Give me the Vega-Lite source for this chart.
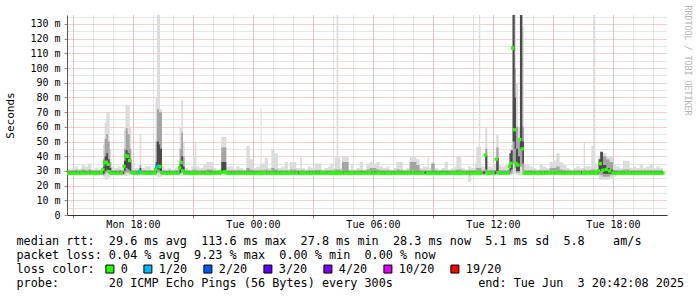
{
"$schema": "https://vega.github.io/schema/vega-lite/v6.json",
"width": 600, "height": 200,
"autosize": "none",
"padding": {"left": 67, "top": 15, "right": 30, "bottom": 82},
"background": "white",
"config": {"view": {"stroke": null}},
"data": {"values": [
{"t":"2025-06-02T14:45","lo":26.8,"hi":31,"a":27.4,"b":30.4,"c":28,"d":29.6,"m":28.5,"l":"0"},
{"t":"2025-06-02T14:55","lo":26.8,"hi":32,"a":27.4,"b":30.4,"c":28,"d":29.6,"m":28.6,"l":"0"},
{"t":"2025-06-02T15:05","lo":26.7,"hi":33,"a":27.4,"b":30.6,"c":28,"d":29.6,"m":28.4,"l":"0"},
{"t":"2025-06-02T15:15","lo":26.8,"hi":31.5,"a":27.4,"b":30.4,"c":28,"d":29.6,"m":28.5,"l":"0"},
{"t":"2025-06-02T15:25","lo":26.8,"hi":34,"a":27.4,"b":31,"c":28,"d":29.7,"m":28.7,"l":"0"},
{"t":"2025-06-02T15:35","lo":26.9,"hi":33,"a":27.4,"b":30.5,"c":28,"d":29.6,"m":28.4,"l":"0"},
{"t":"2025-06-02T15:45","lo":26.8,"hi":35,"a":27.5,"b":31,"c":28,"d":29.8,"m":28.9,"l":"0"},
{"t":"2025-06-02T15:55","lo":26.8,"hi":31,"a":27.4,"b":30.2,"c":28,"d":29.6,"m":28.5,"l":"0"},
{"t":"2025-06-02T16:05","lo":26.7,"hi":32,"a":27.4,"b":30.4,"c":28,"d":29.5,"m":28.3,"l":"0"},
{"t":"2025-06-02T16:15","lo":26.8,"hi":31.5,"a":27.4,"b":30.3,"c":28,"d":29.6,"m":28.6,"l":"0"},
{"t":"2025-06-02T16:25","lo":26.8,"hi":32,"a":27.4,"b":30.5,"c":28,"d":29.7,"m":28.8,"l":"0"},
{"t":"2025-06-02T16:30","lo":26,"hi":48,"a":27,"b":38,"c":28,"d":33,"m":31,"l":"0"},
{"t":"2025-06-02T16:35","lo":24,"hi":63,"a":28,"b":52,"c":30,"d":40,"m":35.6,"l":"0"},
{"t":"2025-06-02T16:40","lo":24,"hi":70,"a":29,"b":55,"c":31,"d":42,"m":36,"l":"0"},
{"t":"2025-06-02T16:45","lo":25,"hi":70,"a":28,"b":50,"c":30,"d":38,"m":34.5,"l":"0"},
{"t":"2025-06-02T16:50","lo":26,"hi":45,"a":27.5,"b":36,"c":28,"d":32,"m":29.5,"l":"0"},
{"t":"2025-06-02T16:55","lo":26.8,"hi":33,"a":27.4,"b":30.5,"c":28,"d":29.6,"m":28.5,"l":"0"},
{"t":"2025-06-02T17:05","lo":26.8,"hi":32,"a":27.4,"b":30.4,"c":28,"d":29.6,"m":28.4,"l":"0"},
{"t":"2025-06-02T17:15","lo":26.8,"hi":33,"a":27.4,"b":30.6,"c":28,"d":29.7,"m":28.7,"l":"0"},
{"t":"2025-06-02T17:25","lo":26.8,"hi":31.5,"a":27.4,"b":30.3,"c":28,"d":29.6,"m":28.5,"l":"0"},
{"t":"2025-06-02T17:33","lo":26.5,"hi":58,"a":28,"b":45,"c":30,"d":37,"m":33,"l":"0"},
{"t":"2025-06-02T17:38","lo":26.5,"hi":75,"a":29,"b":59,"c":32,"d":44,"m":40.5,"l":"0"},
{"t":"2025-06-02T17:44","lo":27,"hi":75,"a":29,"b":55,"c":31,"d":42,"m":40,"l":"0"},
{"t":"2025-06-02T17:50","lo":27,"hi":60,"a":28,"b":45,"c":30,"d":38,"m":37,"l":"0"},
{"t":"2025-06-02T17:55","lo":26.8,"hi":35,"a":27.4,"b":30.5,"c":28,"d":29.6,"m":29,"l":"0"},
{"t":"2025-06-02T18:05","lo":26.8,"hi":32,"a":27.4,"b":30.4,"c":28,"d":29.6,"m":28.5,"l":"0"},
{"t":"2025-06-02T18:15","lo":26.8,"hi":32,"a":27.4,"b":30.4,"c":28,"d":29.6,"m":28.6,"l":"0"},
{"t":"2025-06-02T18:20","lo":26.8,"hi":55,"a":28,"b":34,"c":28.5,"d":32,"m":29.5,"l":"1/20"},
{"t":"2025-06-02T18:25","lo":26.8,"hi":32,"a":27.4,"b":30.4,"c":28,"d":29.6,"m":28.7,"l":"0"},
{"t":"2025-06-02T18:35","lo":26.8,"hi":33,"a":27.4,"b":30.5,"c":28,"d":29.6,"m":28.5,"l":"0"},
{"t":"2025-06-02T18:45","lo":26.8,"hi":33,"a":27.4,"b":30.4,"c":28,"d":29.6,"m":28.6,"l":"0"},
{"t":"2025-06-02T18:55","lo":26.8,"hi":31,"a":27.4,"b":30.3,"c":28,"d":29.6,"m":28.4,"l":"0"},
{"t":"2025-06-02T19:05","lo":26.8,"hi":32,"a":27.4,"b":30.4,"c":28,"d":29.6,"m":28.6,"l":"0"},
{"t":"2025-06-02T19:08","lo":26.5,"hi":80,"a":28,"b":50,"c":29,"d":36,"m":31,"l":"0"},
{"t":"2025-06-02T19:12","lo":26,"hi":136.1,"a":29,"b":72,"c":31,"d":50,"m":33,"l":"1/20"},
{"t":"2025-06-02T19:18","lo":26,"hi":136.1,"a":29,"b":70,"c":31,"d":48,"m":33,"l":"1/20"},
{"t":"2025-06-02T19:21","lo":26,"hi":72,"a":28,"b":70,"c":30,"d":45,"m":33,"l":"0"},
{"t":"2025-06-02T19:27","lo":26.8,"hi":33,"a":27.4,"b":30.5,"c":28,"d":29.6,"m":28.6,"l":"0"},
{"t":"2025-06-02T19:35","lo":26.8,"hi":31,"a":27.4,"b":30.3,"c":28,"d":29.6,"m":28.5,"l":"0"},
{"t":"2025-06-02T19:45","lo":26.8,"hi":32,"a":27.4,"b":30.4,"c":28,"d":29.6,"m":28.4,"l":"0"},
{"t":"2025-06-02T19:55","lo":26.8,"hi":31,"a":27.4,"b":30.3,"c":28,"d":29.6,"m":28.6,"l":"0"},
{"t":"2025-06-02T20:05","lo":26.8,"hi":32,"a":27.4,"b":30.4,"c":28,"d":29.6,"m":28.7,"l":"0"},
{"t":"2025-06-02T20:15","lo":26.8,"hi":33,"a":27.4,"b":30.5,"c":28,"d":29.6,"m":28.5,"l":"0"},
{"t":"2025-06-02T20:20","lo":27,"hi":60,"a":28,"b":45,"c":29,"d":35,"m":32,"l":"0"},
{"t":"2025-06-02T20:25","lo":27,"hi":78,"a":29,"b":56,"c":31,"d":40,"m":35.6,"l":"0"},
{"t":"2025-06-02T20:30","lo":27,"hi":50,"a":28,"b":40,"c":29,"d":33,"m":30,"l":"0"},
{"t":"2025-06-02T20:35","lo":26.8,"hi":32,"a":27.4,"b":30.4,"c":28,"d":29.6,"m":28.6,"l":"0"},
{"t":"2025-06-02T20:45","lo":26.8,"hi":31,"a":27.4,"b":30.3,"c":28,"d":29.6,"m":28.4,"l":"0"},
{"t":"2025-06-02T20:55","lo":26.8,"hi":33,"a":27.4,"b":30.5,"c":28,"d":29.6,"m":28.6,"l":"0"},
{"t":"2025-06-02T21:00","lo":26.8,"hi":40,"a":27.4,"b":31,"c":28,"d":29.6,"m":28.5,"l":"0"},
{"t":"2025-06-02T21:05","lo":26.8,"hi":49,"a":27.4,"b":31,"c":28,"d":29.6,"m":28.6,"l":"0"},
{"t":"2025-06-02T21:10","lo":26.8,"hi":33,"a":27.4,"b":30.4,"c":28,"d":29.6,"m":28.5,"l":"0"},
{"t":"2025-06-02T21:20","lo":26.8,"hi":32,"a":27.4,"b":30.4,"c":28,"d":29.6,"m":28.7,"l":"0"},
{"t":"2025-06-02T21:30","lo":26.8,"hi":34,"a":27.4,"b":30.5,"c":28,"d":29.6,"m":28.5,"l":"0"},
{"t":"2025-06-02T21:40","lo":26.8,"hi":36,"a":27.4,"b":31,"c":28,"d":29.6,"m":28.6,"l":"0"},
{"t":"2025-06-02T21:50","lo":26.8,"hi":36,"a":27.4,"b":31,"c":28,"d":29.6,"m":28.4,"l":"0"},
{"t":"2025-06-02T22:00","lo":26.8,"hi":32,"a":27.4,"b":30.4,"c":28,"d":29.6,"m":28.6,"l":"0"},
{"t":"2025-06-02T22:10","lo":26.8,"hi":31,"a":27.4,"b":30.3,"c":28,"d":29.6,"m":28.5,"l":"0"},
{"t":"2025-06-02T22:20","lo":26.8,"hi":32,"a":27.4,"b":30.4,"c":28,"d":29.6,"m":28.7,"l":"0"},
{"t":"2025-06-02T22:25","lo":26.8,"hi":53,"a":28,"b":46,"c":28.5,"d":36,"m":29,"l":"0"},
{"t":"2025-06-02T22:35","lo":26.8,"hi":53,"a":28,"b":46,"c":28.5,"d":36,"m":29.5,"l":"0"},
{"t":"2025-06-02T22:40","lo":26.8,"hi":33,"a":27.4,"b":30.5,"c":28,"d":29.6,"m":28.6,"l":"0"},
{"t":"2025-06-02T22:50","lo":26.8,"hi":33,"a":27.4,"b":30.4,"c":28,"d":29.6,"m":28.5,"l":"0"},
{"t":"2025-06-02T23:00","lo":26.8,"hi":31.5,"a":27.4,"b":30.3,"c":28,"d":29.6,"m":28.4,"l":"0"},
{"t":"2025-06-02T23:10","lo":26.8,"hi":33,"a":27.4,"b":30.4,"c":28,"d":29.6,"m":28.6,"l":"0"},
{"t":"2025-06-02T23:20","lo":26.8,"hi":32,"a":27.4,"b":30.4,"c":28,"d":29.6,"m":28.5,"l":"0"},
{"t":"2025-06-02T23:30","lo":26.8,"hi":31,"a":27.4,"b":30.3,"c":28,"d":29.6,"m":28.7,"l":"0"},
{"t":"2025-06-02T23:40","lo":26.8,"hi":47,"a":27.4,"b":32,"c":28,"d":29.8,"m":28.6,"l":"0"},
{"t":"2025-06-02T23:50","lo":26.8,"hi":38,"a":27.4,"b":31,"c":28,"d":29.6,"m":28.5,"l":"0"},
{"t":"2025-06-03T00:00","lo":26.8,"hi":32,"a":27.4,"b":30.4,"c":28,"d":29.6,"m":28.4,"l":"0"},
{"t":"2025-06-03T00:10","lo":26.8,"hi":33,"a":27.4,"b":30.5,"c":28,"d":29.6,"m":28.6,"l":"0"},
{"t":"2025-06-03T00:20","lo":26.8,"hi":34,"a":27.4,"b":30.5,"c":28,"d":29.6,"m":28.5,"l":"0"},
{"t":"2025-06-03T00:23","lo":26.8,"hi":73,"a":27.4,"b":31,"c":28,"d":29.6,"m":28.6,"l":"0"},
{"t":"2025-06-03T00:26","lo":26.8,"hi":35,"a":27.4,"b":30.5,"c":28,"d":29.6,"m":28.5,"l":"0"},
{"t":"2025-06-03T00:35","lo":26.8,"hi":39,"a":27.4,"b":31,"c":28,"d":29.6,"m":28.7,"l":"0"},
{"t":"2025-06-03T00:45","lo":26.8,"hi":32,"a":27.4,"b":30.4,"c":28,"d":29.6,"m":28.5,"l":"0"},
{"t":"2025-06-03T00:55","lo":26.8,"hi":45,"a":27.4,"b":32,"c":28,"d":29.6,"m":28.6,"l":"0"},
{"t":"2025-06-03T01:05","lo":26.8,"hi":42,"a":27.4,"b":31,"c":28,"d":29.6,"m":28.4,"l":"0"},
{"t":"2025-06-03T01:15","lo":26.8,"hi":32,"a":27.4,"b":30.4,"c":28,"d":29.6,"m":28.6,"l":"0"},
{"t":"2025-06-03T01:25","lo":26.8,"hi":33,"a":27.4,"b":30.4,"c":28,"d":29.6,"m":28.5,"l":"0"},
{"t":"2025-06-03T01:35","lo":26.8,"hi":36,"a":27.4,"b":30.5,"c":28,"d":29.6,"m":28.6,"l":"0"},
{"t":"2025-06-03T01:45","lo":26.8,"hi":31,"a":27.4,"b":30.3,"c":28,"d":29.6,"m":28.5,"l":"0"},
{"t":"2025-06-03T01:50","lo":26.8,"hi":36,"a":27.4,"b":31,"c":28,"d":29.6,"m":28.7,"l":"0"},
{"t":"2025-06-03T02:00","lo":26.8,"hi":36,"a":27.4,"b":31,"c":28,"d":29.6,"m":28.6,"l":"0"},
{"t":"2025-06-03T02:10","lo":26.8,"hi":32,"a":27.4,"b":30.4,"c":28,"d":29.6,"m":28.5,"l":"0"},
{"t":"2025-06-03T02:22","lo":26.8,"hi":40,"a":27.4,"b":30.5,"c":28,"d":29.6,"m":28.6,"l":"0"},
{"t":"2025-06-03T02:27","lo":26.8,"hi":32,"a":27.4,"b":30.4,"c":28,"d":29.6,"m":28.5,"l":"0"},
{"t":"2025-06-03T02:35","lo":26.8,"hi":31,"a":27.4,"b":30.3,"c":28,"d":29.6,"m":28.7,"l":"0"},
{"t":"2025-06-03T02:45","lo":26.8,"hi":33,"a":27.4,"b":30.4,"c":28,"d":29.6,"m":28.6,"l":"0"},
{"t":"2025-06-03T02:55","lo":26.8,"hi":32,"a":27.4,"b":30.4,"c":28,"d":29.6,"m":28.5,"l":"0"},
{"t":"2025-06-03T03:05","lo":26.8,"hi":35,"a":27.4,"b":30.6,"c":28,"d":29.6,"m":28.6,"l":"0"},
{"t":"2025-06-03T03:15","lo":26.8,"hi":35,"a":27.4,"b":30.6,"c":28,"d":29.6,"m":28.5,"l":"0"},
{"t":"2025-06-03T03:25","lo":26.8,"hi":31,"a":27.4,"b":30.3,"c":28,"d":29.6,"m":28.8,"l":"0"},
{"t":"2025-06-03T03:35","lo":26.8,"hi":32,"a":27.4,"b":30.4,"c":28,"d":29.6,"m":28.7,"l":"0"},
{"t":"2025-06-03T03:45","lo":26.8,"hi":33,"a":27.4,"b":30.4,"c":28,"d":29.6,"m":28.6,"l":"0"},
{"t":"2025-06-03T03:53","lo":26.8,"hi":35,"a":27.4,"b":30.5,"c":28,"d":29.6,"m":28.5,"l":"0"},
{"t":"2025-06-03T04:00","lo":26.8,"hi":32,"a":27.4,"b":30.4,"c":28,"d":29.6,"m":28.7,"l":"0"},
{"t":"2025-06-03T04:05","lo":26.8,"hi":40,"a":27.4,"b":31,"c":28,"d":29.6,"m":28.6,"l":"0"},
{"t":"2025-06-03T04:11","lo":26.8,"hi":136.1,"a":27.4,"b":31,"c":28,"d":29.6,"m":28.5,"l":"0"},
{"t":"2025-06-03T04:16","lo":26.8,"hi":40,"a":27.4,"b":31,"c":28,"d":29.6,"m":28.6,"l":"0"},
{"t":"2025-06-03T04:22","lo":26.8,"hi":32,"a":27.4,"b":30.4,"c":28,"d":29.6,"m":28.5,"l":"0"},
{"t":"2025-06-03T04:27","lo":26.8,"hi":40,"a":27.4,"b":36,"c":28,"d":29.8,"m":28.7,"l":"0"},
{"t":"2025-06-03T04:37","lo":26.8,"hi":40,"a":27.4,"b":36,"c":28,"d":29.8,"m":28.6,"l":"0"},
{"t":"2025-06-03T04:47","lo":26.8,"hi":31,"a":27.4,"b":30.3,"c":28,"d":29.6,"m":28.5,"l":"0"},
{"t":"2025-06-03T04:54","lo":26.8,"hi":35,"a":27.4,"b":30.5,"c":28,"d":29.6,"m":28.6,"l":"0"},
{"t":"2025-06-03T05:00","lo":26.8,"hi":31,"a":27.4,"b":30.3,"c":28,"d":29.6,"m":28.5,"l":"0"},
{"t":"2025-06-03T05:10","lo":26.8,"hi":32,"a":27.4,"b":30.4,"c":28,"d":29.6,"m":28.7,"l":"0"},
{"t":"2025-06-03T05:20","lo":26.8,"hi":36,"a":27.4,"b":30.6,"c":28,"d":29.6,"m":28.6,"l":"0"},
{"t":"2025-06-03T05:30","lo":26.8,"hi":31,"a":27.4,"b":30.3,"c":28,"d":29.6,"m":28.5,"l":"0"},
{"t":"2025-06-03T05:40","lo":26.8,"hi":35,"a":27.4,"b":31,"c":28,"d":29.6,"m":28.6,"l":"0"},
{"t":"2025-06-03T05:50","lo":26.8,"hi":36,"a":27.4,"b":32,"c":28,"d":29.8,"m":28.8,"l":"0"},
{"t":"2025-06-03T06:00","lo":26.8,"hi":35,"a":27.4,"b":32,"c":28,"d":29.8,"m":28.6,"l":"0"},
{"t":"2025-06-03T06:10","lo":26.8,"hi":36,"a":27.4,"b":31,"c":28,"d":29.6,"m":28.5,"l":"0"},
{"t":"2025-06-03T06:20","lo":26.8,"hi":33,"a":27.4,"b":30.5,"c":28,"d":29.6,"m":28.7,"l":"0"},
{"t":"2025-06-03T06:30","lo":26.8,"hi":32,"a":27.4,"b":30.4,"c":28,"d":29.6,"m":28.6,"l":"0"},
{"t":"2025-06-03T06:40","lo":26.8,"hi":33,"a":27.4,"b":30.4,"c":28,"d":29.6,"m":28.5,"l":"0"},
{"t":"2025-06-03T06:50","lo":26.8,"hi":31,"a":27.4,"b":30.3,"c":28,"d":29.6,"m":28.6,"l":"0"},
{"t":"2025-06-03T07:00","lo":26.8,"hi":32,"a":27.4,"b":30.4,"c":28,"d":29.6,"m":28.5,"l":"0"},
{"t":"2025-06-03T07:10","lo":26.8,"hi":36,"a":27.4,"b":31,"c":28,"d":29.6,"m":28.7,"l":"0"},
{"t":"2025-06-03T07:20","lo":26.8,"hi":36,"a":27.4,"b":30.6,"c":28,"d":29.6,"m":28.6,"l":"0"},
{"t":"2025-06-03T07:30","lo":26.8,"hi":31,"a":27.4,"b":30.3,"c":28,"d":29.6,"m":28.5,"l":"0"},
{"t":"2025-06-03T07:40","lo":26.8,"hi":32,"a":27.4,"b":30.4,"c":28,"d":29.6,"m":28.6,"l":"0"},
{"t":"2025-06-03T07:50","lo":26.8,"hi":40,"a":27.4,"b":36,"c":28,"d":30,"m":28.7,"l":"0"},
{"t":"2025-06-03T08:00","lo":26.8,"hi":40,"a":27.4,"b":36,"c":28,"d":30,"m":28.8,"l":"0"},
{"t":"2025-06-03T08:10","lo":26.8,"hi":38,"a":27.4,"b":34,"c":28,"d":29.8,"m":28.6,"l":"0"},
{"t":"2025-06-03T08:20","lo":26.8,"hi":32,"a":27.4,"b":30.4,"c":28,"d":29.6,"m":28.5,"l":"0"},
{"t":"2025-06-03T08:30","lo":26.8,"hi":33,"a":27.4,"b":30.4,"c":28,"d":29.6,"m":28.6,"l":"0"},
{"t":"2025-06-03T08:44","lo":26.8,"hi":39,"a":27.4,"b":30.5,"c":28,"d":29.6,"m":28.5,"l":"0"},
{"t":"2025-06-03T08:48","lo":26.8,"hi":32,"a":27.4,"b":30.4,"c":28,"d":29.6,"m":28.6,"l":"0"},
{"t":"2025-06-03T08:55","lo":26.8,"hi":36,"a":27.4,"b":35,"c":28,"d":30,"m":28.7,"l":"0"},
{"t":"2025-06-03T09:05","lo":26.8,"hi":32,"a":27.4,"b":30.4,"c":28,"d":29.6,"m":28.5,"l":"0"},
{"t":"2025-06-03T09:15","lo":26.8,"hi":31,"a":27.4,"b":30.3,"c":28,"d":29.6,"m":28.6,"l":"0"},
{"t":"2025-06-03T09:25","lo":26.8,"hi":32,"a":27.4,"b":30.4,"c":28,"d":29.6,"m":28.4,"l":"0"},
{"t":"2025-06-03T09:35","lo":26.8,"hi":36,"a":27.4,"b":30.5,"c":28,"d":29.6,"m":28.6,"l":"0"},
{"t":"2025-06-03T09:45","lo":26.8,"hi":31,"a":27.4,"b":30.3,"c":28,"d":29.6,"m":28.5,"l":"0"},
{"t":"2025-06-03T09:55","lo":26.8,"hi":32,"a":27.4,"b":30.4,"c":28,"d":29.6,"m":28.7,"l":"0"},
{"t":"2025-06-03T10:05","lo":26.8,"hi":33,"a":27.4,"b":30.4,"c":28,"d":29.6,"m":28.6,"l":"0"},
{"t":"2025-06-03T10:10","lo":26.8,"hi":40,"a":27.4,"b":31,"c":28,"d":29.6,"m":28.5,"l":"0"},
{"t":"2025-06-03T10:20","lo":26.8,"hi":40,"a":27.4,"b":31,"c":28,"d":29.6,"m":28.6,"l":"0"},
{"t":"2025-06-03T10:25","lo":26.8,"hi":32,"a":27.4,"b":30.4,"c":28,"d":29.6,"m":28.5,"l":"0"},
{"t":"2025-06-03T10:35","lo":26.8,"hi":31,"a":27.4,"b":30.3,"c":28,"d":29.6,"m":28.7,"l":"0"},
{"t":"2025-06-03T10:45","lo":22.7,"hi":33,"a":27,"b":30.4,"c":28,"d":29.6,"m":28.5,"l":"0"},
{"t":"2025-06-03T10:55","lo":26.8,"hi":32,"a":27.4,"b":30.4,"c":28,"d":29.6,"m":28.6,"l":"0"},
{"t":"2025-06-03T11:05","lo":26.8,"hi":35,"a":27.4,"b":30.6,"c":28,"d":29.6,"m":28.5,"l":"0"},
{"t":"2025-06-03T11:10","lo":26.8,"hi":46.5,"a":27.4,"b":32,"c":28,"d":29.6,"m":28.6,"l":"0"},
{"t":"2025-06-03T11:18","lo":26.8,"hi":136.1,"a":27.4,"b":32,"c":28,"d":29.6,"m":28.7,"l":"0"},
{"t":"2025-06-03T11:22","lo":26.8,"hi":46.5,"a":27.4,"b":32,"c":28,"d":29.6,"m":28.6,"l":"0"},
{"t":"2025-06-03T11:25","lo":26.8,"hi":33,"a":27.4,"b":30.4,"c":28,"d":29.6,"m":28.5,"l":"0"},
{"t":"2025-06-03T11:37","lo":27,"hi":59,"a":29,"b":45,"c":31,"d":41,"m":40.8,"l":"0"},
{"t":"2025-06-03T11:43","lo":26.8,"hi":33,"a":27.4,"b":30.4,"c":28,"d":29.6,"m":28.6,"l":"0"},
{"t":"2025-06-03T11:50","lo":26.8,"hi":33,"a":27.4,"b":30.4,"c":28,"d":29.6,"m":28.5,"l":"0"},
{"t":"2025-06-03T12:00","lo":26.8,"hi":35,"a":27.4,"b":30.6,"c":28,"d":29.6,"m":28.7,"l":"0"},
{"t":"2025-06-03T12:10","lo":27,"hi":54.5,"a":28,"b":46,"c":30,"d":38.6,"m":38,"l":"0"},
{"t":"2025-06-03T12:17","lo":26.8,"hi":34,"a":27.4,"b":30.5,"c":28,"d":29.6,"m":28.6,"l":"0"},
{"t":"2025-06-03T12:25","lo":26.8,"hi":33,"a":27.4,"b":30.4,"c":28,"d":29.6,"m":28.5,"l":"0"},
{"t":"2025-06-03T12:35","lo":26.8,"hi":34,"a":27.4,"b":30.5,"c":28,"d":29.6,"m":28.6,"l":"0"},
{"t":"2025-06-03T12:45","lo":26.8,"hi":35,"a":27.4,"b":31,"c":28,"d":29.6,"m":28.7,"l":"0"},
{"t":"2025-06-03T12:50","lo":27,"hi":45,"a":28,"b":42,"c":30,"d":42,"m":33,"l":"0"},
{"t":"2025-06-03T12:54","lo":27,"hi":48,"a":28,"b":44,"c":31,"d":44,"m":35.2,"l":"0"},
{"t":"2025-06-03T12:59","lo":28,"hi":136.1,"a":35,"b":136.1,"c":50,"d":136.1,"m":113.6,"l":"0"},
{"t":"2025-06-03T13:05","lo":28,"hi":136.1,"a":32,"b":100,"c":45,"d":80,"m":58,"l":"0"},
{"t":"2025-06-03T13:09","lo":27,"hi":90,"a":29,"b":60,"c":30,"d":45,"m":35,"l":"0"},
{"t":"2025-06-03T13:15","lo":27,"hi":60,"a":29,"b":50,"c":30,"d":40,"m":34,"l":"0"},
{"t":"2025-06-03T13:21","lo":27,"hi":136.1,"a":33,"b":136.1,"c":45,"d":136.1,"m":51.3,"l":"0"},
{"t":"2025-06-03T13:28","lo":27,"hi":128,"a":30,"b":60,"c":35,"d":50,"m":45,"l":"0"},
{"t":"2025-06-03T13:33","lo":26.8,"hi":35,"a":27.4,"b":30.5,"c":28,"d":29.6,"m":28.5,"l":"0"},
{"t":"2025-06-03T13:40","lo":26.8,"hi":34,"a":27.4,"b":30.5,"c":28,"d":29.6,"m":28.6,"l":"0"},
{"t":"2025-06-03T13:50","lo":26.8,"hi":33,"a":27.4,"b":30.4,"c":28,"d":29.6,"m":28.5,"l":"0"},
{"t":"2025-06-03T14:00","lo":26.8,"hi":32,"a":27.4,"b":30.4,"c":28,"d":29.6,"m":28.7,"l":"0"},
{"t":"2025-06-03T14:10","lo":26.8,"hi":31,"a":27.4,"b":30.3,"c":28,"d":29.6,"m":28.6,"l":"0"},
{"t":"2025-06-03T14:20","lo":26.8,"hi":34,"a":27.4,"b":30.5,"c":28,"d":29.6,"m":28.5,"l":"0"},
{"t":"2025-06-03T14:30","lo":26.8,"hi":33,"a":27.4,"b":30.4,"c":28,"d":29.6,"m":28.6,"l":"0"},
{"t":"2025-06-03T14:40","lo":26.8,"hi":32,"a":27.4,"b":30.4,"c":28,"d":29.6,"m":28.5,"l":"0"},
{"t":"2025-06-03T14:50","lo":26.8,"hi":36,"a":27.4,"b":32,"c":28,"d":29.8,"m":28.7,"l":"0"},
{"t":"2025-06-03T15:00","lo":26.8,"hi":37,"a":27.4,"b":32,"c":28,"d":29.8,"m":28.9,"l":"0"},
{"t":"2025-06-03T15:10","lo":26.8,"hi":42,"a":27.4,"b":33,"c":28,"d":29.8,"m":28.8,"l":"0"},
{"t":"2025-06-03T15:20","lo":26.8,"hi":36,"a":27.4,"b":31,"c":28,"d":29.6,"m":28.6,"l":"0"},
{"t":"2025-06-03T15:30","lo":26.8,"hi":34,"a":27.4,"b":30.5,"c":28,"d":29.6,"m":28.5,"l":"0"},
{"t":"2025-06-03T15:40","lo":26.8,"hi":32,"a":27.4,"b":30.4,"c":28,"d":29.6,"m":28.6,"l":"0"},
{"t":"2025-06-03T15:50","lo":26.8,"hi":31,"a":27.4,"b":30.3,"c":28,"d":29.6,"m":28.5,"l":"0"},
{"t":"2025-06-03T16:00","lo":26.8,"hi":32,"a":27.4,"b":30.4,"c":28,"d":29.6,"m":28.7,"l":"0"},
{"t":"2025-06-03T16:10","lo":26.8,"hi":33,"a":27.4,"b":30.4,"c":28,"d":29.6,"m":28.6,"l":"0"},
{"t":"2025-06-03T16:20","lo":26.8,"hi":32,"a":27.4,"b":30.4,"c":28,"d":29.6,"m":28.5,"l":"0"},
{"t":"2025-06-03T16:32","lo":26.8,"hi":49,"a":27.4,"b":31,"c":28,"d":29.6,"m":28.6,"l":"0"},
{"t":"2025-06-03T16:36","lo":26.8,"hi":33,"a":27.4,"b":30.4,"c":28,"d":29.6,"m":28.5,"l":"0"},
{"t":"2025-06-03T16:45","lo":26.8,"hi":33,"a":27.4,"b":30.4,"c":28,"d":29.6,"m":28.7,"l":"0"},
{"t":"2025-06-03T16:55","lo":26.8,"hi":47,"a":27.4,"b":31,"c":28,"d":29.6,"m":28.6,"l":"0"},
{"t":"2025-06-03T17:02","lo":26.8,"hi":136.1,"a":27.4,"b":31,"c":28,"d":29.6,"m":28.5,"l":"0"},
{"t":"2025-06-03T17:07","lo":26.8,"hi":35,"a":27.4,"b":30.5,"c":28,"d":29.6,"m":28.6,"l":"0"},
{"t":"2025-06-03T17:10","lo":26.8,"hi":34,"a":27.4,"b":30.5,"c":28,"d":29.6,"m":28.5,"l":"0"},
{"t":"2025-06-03T17:17","lo":24,"hi":40,"a":27.4,"b":38,"c":30,"d":38,"m":30,"l":"0"},
{"t":"2025-06-03T17:22","lo":24,"hi":43,"a":27,"b":42,"c":30,"d":43,"m":35,"l":"0"},
{"t":"2025-06-03T17:30","lo":24,"hi":42,"a":26,"b":40,"c":28,"d":34,"m":30.5,"l":"0"},
{"t":"2025-06-03T17:40","lo":24,"hi":40,"a":26,"b":38,"c":28,"d":32,"m":31,"l":"0"},
{"t":"2025-06-03T17:50","lo":25,"hi":40,"a":27,"b":36,"c":28,"d":31,"m":30,"l":"0"},
{"t":"2025-06-03T18:00","lo":26,"hi":34,"a":27.4,"b":30.6,"c":28,"d":29.6,"m":28.6,"l":"0"},
{"t":"2025-06-03T18:10","lo":26.8,"hi":33,"a":27.4,"b":30.4,"c":28,"d":29.6,"m":28.5,"l":"0"},
{"t":"2025-06-03T18:20","lo":26.8,"hi":32,"a":27.4,"b":30.4,"c":28,"d":29.6,"m":28.6,"l":"0"},
{"t":"2025-06-03T18:30","lo":26.8,"hi":37,"a":27.4,"b":31,"c":28,"d":29.6,"m":28.5,"l":"0"},
{"t":"2025-06-03T18:40","lo":26.8,"hi":37,"a":27.4,"b":31,"c":28,"d":29.6,"m":28.7,"l":"0"},
{"t":"2025-06-03T18:50","lo":26.8,"hi":32,"a":27.4,"b":30.4,"c":28,"d":29.6,"m":28.6,"l":"0"},
{"t":"2025-06-03T19:00","lo":26.8,"hi":33,"a":27.4,"b":30.4,"c":28,"d":29.6,"m":28.5,"l":"0"},
{"t":"2025-06-03T19:10","lo":26.8,"hi":32,"a":27.4,"b":30.4,"c":28,"d":29.6,"m":28.6,"l":"0"},
{"t":"2025-06-03T19:20","lo":26.8,"hi":34,"a":27.4,"b":30.5,"c":28,"d":29.6,"m":28.5,"l":"0"},
{"t":"2025-06-03T19:30","lo":26.8,"hi":32,"a":27.4,"b":30.4,"c":28,"d":29.6,"m":28.7,"l":"0"},
{"t":"2025-06-03T19:40","lo":26.8,"hi":33,"a":27.4,"b":30.4,"c":28,"d":29.6,"m":28.6,"l":"0"},
{"t":"2025-06-03T19:50","lo":26.8,"hi":34,"a":27.4,"b":30.5,"c":28,"d":29.6,"m":28.5,"l":"0"},
{"t":"2025-06-03T20:00","lo":26.8,"hi":32,"a":27.4,"b":30.4,"c":28,"d":29.6,"m":28.6,"l":"0"},
{"t":"2025-06-03T20:10","lo":26.8,"hi":33,"a":27.4,"b":30.4,"c":28,"d":29.6,"m":28.5,"l":"0"},
{"t":"2025-06-03T20:20","lo":26.8,"hi":32,"a":27.4,"b":30.4,"c":28,"d":29.6,"m":28.6,"l":"0"},
{"t":"2025-06-03T20:30","lo":26.8,"hi":32,"a":27.4,"b":30.4,"c":28,"d":29.6,"m":28.5,"l":"0"}
]},
"layer": [
{"mark": {"type": "area", "interpolate": "step-after", "color": "#dcdcdc", "clip": true},
 "encoding": {
  "x": {"field": "t", "type": "temporal",
        "scale": {"domain": [{"year": 2025, "month": 6, "date": 2, "hours": 14, "minutes": 42, "seconds": 8}, {"year": 2025, "month": 6, "date": 3, "hours": 20, "minutes": 42, "seconds": 8}], "nice": false},
        "axis": {"orient": "bottom",
                 "values": [{"year":2025,"month":6,"date":2,"hours":15},{"year":2025,"month":6,"date":2,"hours":16},{"year":2025,"month":6,"date":2,"hours":17},{"year":2025,"month":6,"date":2,"hours":18},{"year":2025,"month":6,"date":2,"hours":19},{"year":2025,"month":6,"date":2,"hours":20},{"year":2025,"month":6,"date":2,"hours":21},{"year":2025,"month":6,"date":2,"hours":22},{"year":2025,"month":6,"date":2,"hours":23},{"year":2025,"month":6,"date":3,"hours":0},{"year":2025,"month":6,"date":3,"hours":1},{"year":2025,"month":6,"date":3,"hours":2},{"year":2025,"month":6,"date":3,"hours":3},{"year":2025,"month":6,"date":3,"hours":4},{"year":2025,"month":6,"date":3,"hours":5},{"year":2025,"month":6,"date":3,"hours":6},{"year":2025,"month":6,"date":3,"hours":7},{"year":2025,"month":6,"date":3,"hours":8},{"year":2025,"month":6,"date":3,"hours":9},{"year":2025,"month":6,"date":3,"hours":10},{"year":2025,"month":6,"date":3,"hours":11},{"year":2025,"month":6,"date":3,"hours":12},{"year":2025,"month":6,"date":3,"hours":13},{"year":2025,"month":6,"date":3,"hours":14},{"year":2025,"month":6,"date":3,"hours":15},{"year":2025,"month":6,"date":3,"hours":16},{"year":2025,"month":6,"date":3,"hours":17},{"year":2025,"month":6,"date":3,"hours":18},{"year":2025,"month":6,"date":3,"hours":19},{"year":2025,"month":6,"date":3,"hours":20}],
                 "grid": true, "gridColor": "#cdcdcd", "gridDash": [1, 1], "gridWidth": 1, "labels": false, "ticks": false, "domain": false, "title": null}},
  "y": {"field": "lo", "type": "quantitative",
        "scale": {"domain": [0, 136.1], "nice": false, "zero": true},
        "axis": {"orient": "left", "values": [5, 15, 25, 35, 45, 55, 65, 75, 85, 95, 105, 115, 125, 135], "grid": true, "gridColor": "#cdcdcd", "gridDash": [1, 1], "gridWidth": 1, "labels": false, "ticks": false, "domain": false, "title": null}},
  "y2": {"field": "hi"}
 }},
{"mark": {"type": "area", "interpolate": "step-after", "color": "#a4a4a4", "clip": true},
 "encoding": {
  "x": {"field": "t", "type": "temporal",
        "axis": {"orient": "bottom",
                 "values": [{"year":2025,"month":6,"date":2,"hours":15},{"year":2025,"month":6,"date":2,"hours":18},{"year":2025,"month":6,"date":2,"hours":21},{"year":2025,"month":6,"date":3,"hours":0},{"year":2025,"month":6,"date":3,"hours":3},{"year":2025,"month":6,"date":3,"hours":6},{"year":2025,"month":6,"date":3,"hours":9},{"year":2025,"month":6,"date":3,"hours":12},{"year":2025,"month":6,"date":3,"hours":15},{"year":2025,"month":6,"date":3,"hours":18}],
                 "grid": true, "gridColor": "#e9a3a3", "gridDash": [1, 1], "gridWidth": 1,
                 "ticks": true, "tickSize": 3, "tickColor": "#d07070", "domain": true, "domainColor": "#333333",
                 "labelExpr": "hours(datum.value) % 6 == 0 ? timeFormat(datum.value, '%a %H:%M') : ''",
                 "labelFont": "DejaVu Sans Mono", "labelFontSize": 10, "labelColor": "#000000", "labelPadding": 1, "labelOverlap": false, "labelFlush": false,
                 "title": ["median\u00a0rtt:\u00a0\u00a029.6\u00a0ms\u00a0avg\u00a0\u00a0113.6\u00a0ms\u00a0max\u00a0\u00a027.8\u00a0ms\u00a0min\u00a0\u00a028.3\u00a0ms\u00a0now\u00a0\u00a05.1\u00a0ms\u00a0sd\u00a0\u00a05.8\u00a0\u00a0\u00a0\u00a0am/s", "packet\u00a0loss:\u00a00.04\u00a0%\u00a0avg\u00a0\u00a09.23\u00a0%\u00a0max\u00a0\u00a00.00\u00a0%\u00a0min\u00a0\u00a00.00\u00a0%\u00a0now", "loss\u00a0color:", "probe:\u00a0\u00a0\u00a0\u00a0\u00a0\u00a0\u00a020\u00a0ICMP\u00a0Echo\u00a0Pings\u00a0(56\u00a0Bytes)\u00a0every\u00a0300s\u00a0\u00a0\u00a0\u00a0\u00a0\u00a0\u00a0\u00a0\u00a0\u00a0\u00a0\u00a0end:\u00a0Tue\u00a0Jun\u00a0\u00a03\u00a020:42:08\u00a02025"],
                 "titleFont": "DejaVu Sans Mono", "titleFontSize": 11.8, "titleFontWeight": "normal", "titleColor": "#000000", "titleLineHeight": 14,
                 "titleAnchor": "start", "titleAlign": "left", "titleBaseline": "alphabetic", "titleX": -51, "titleY": 29.5}},
  "y": {"field": "a", "type": "quantitative",
        "axis": {"orient": "left", "values": [0, 10, 20, 30, 40, 50, 60, 70, 80, 90, 100, 110, 120, 130], "grid": true, "gridColor": "#e9a3a3", "gridDash": [1, 1], "gridWidth": 1,
                 "ticks": true, "tickSize": 3, "tickColor": "#d07070", "domain": true, "domainColor": "#555555",
                 "labelExpr": "datum.value == 0 ? '0' : datum.value + ' m'",
                 "labelFont": "DejaVu Sans Mono", "labelFontSize": 10, "labelColor": "#000000", "labelPadding": 4,
                 "title": "Seconds", "titleFont": "DejaVu Sans Mono", "titleFontSize": 11, "titleFontWeight": "normal", "titleColor": "#000000", "titlePadding": 14}},
  "y2": {"field": "b"}
 }},
{"mark": {"type": "area", "interpolate": "step-after", "color": "#4a4a4a", "clip": true},
 "encoding": {
  "x": {"field": "t", "type": "temporal", "axis": null},
  "y": {"field": "c", "type": "quantitative",
        "axis": {"orient": "right", "labels": false, "ticks": false, "domain": false, "grid": false,
                 "title": "RRDTOOL / TOBI OETIKER", "titleAngle": 90, "titleAlign": "left", "titleBaseline": "middle", "titleX": 19, "titleY": -10,
                 "titleFont": "DejaVu Sans Mono", "titleFontSize": 8.3, "titleFontWeight": "normal", "titleColor": "#b4b4b4"}},
  "y2": {"field": "d"}
 }},
{"mark": {"type": "square", "size": 11, "filled": true, "opacity": 1, "clip": true},
 "encoding": {
  "x": {"field": "t", "type": "temporal", "axis": null},
  "y": {"field": "m", "type": "quantitative", "axis": null},
  "color": {"field": "l", "type": "nominal",
            "scale": {"domain": ["0", "1/20", "2/20", "3/20", "4/20", "10/20", "19/20"], "range": ["#26ff00", "#00b8ff", "#0059ff", "#5e00ff", "#7e00ff", "#dd00ff", "#ff0000"]},
            "legend": {"orient": "none", "legendX": 37, "legendY": 248, "direction": "horizontal", "columns": 7, "title": null,
                       "symbolType": "square", "symbolSize": 64, "symbolStrokeColor": "#000000", "symbolStrokeWidth": 1, "symbolOpacity": 1,
                       "labelFont": "DejaVu Sans Mono", "labelFontSize": 11.8, "labelColor": "#000000", "labelOffset": 5, "columnPadding": 13, "padding": 0}}
 }}
],
"resolve": {"axis": {"x": "independent", "y": "independent"}}
}
